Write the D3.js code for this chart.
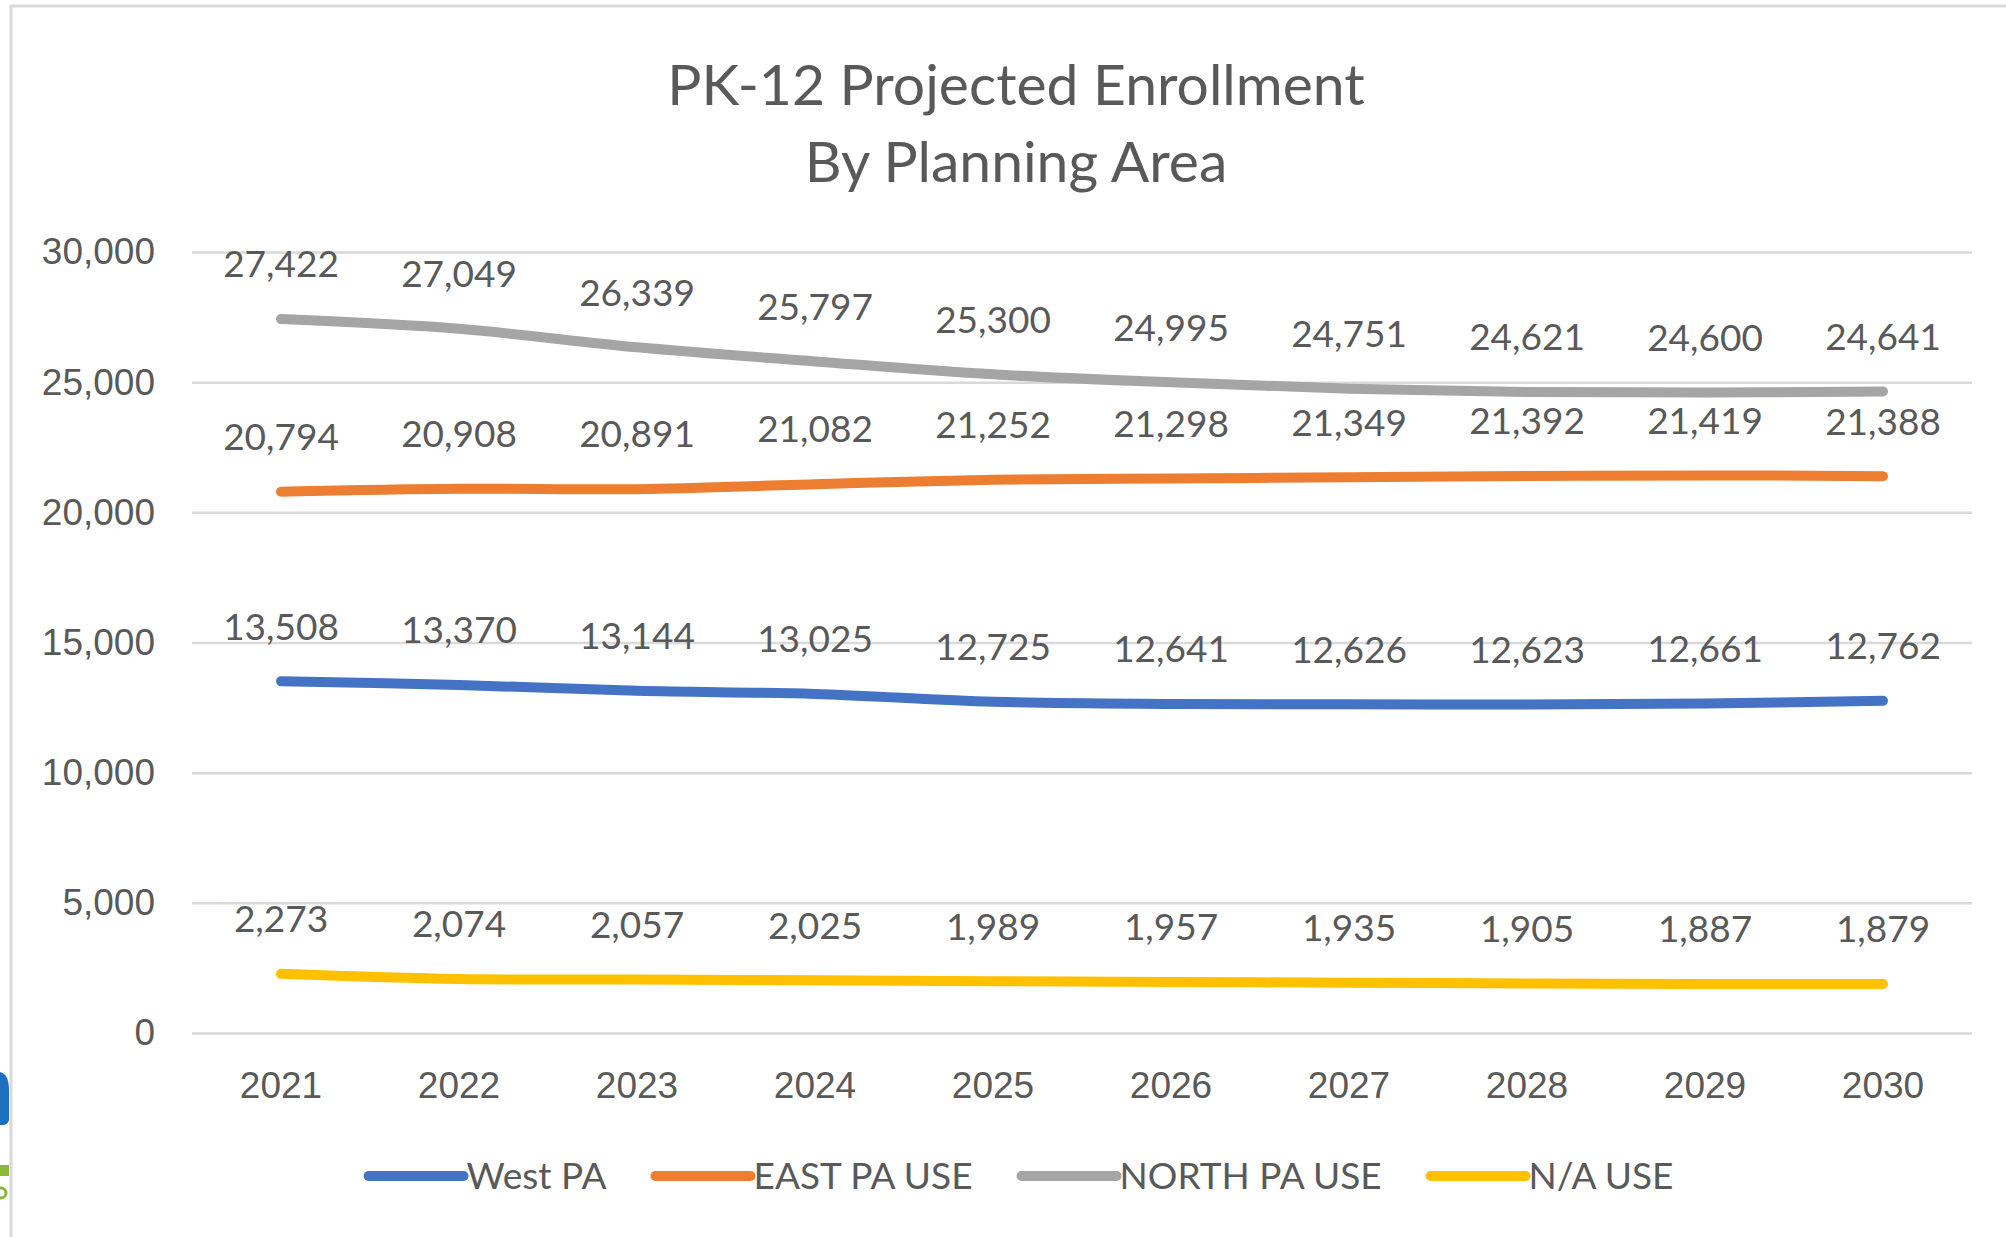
<!DOCTYPE html>
<html>
<head>
<meta charset="utf-8">
<script src="https://cdn.jsdelivr.net/npm/d3@7"></script>
<style>
  html, body { margin: 0; padding: 0; background: #fff; }
  svg { display: block; font-family: Lato, "Open Sans", sans-serif; }
</style>
</head>
<body>
<svg id="chart" width="2006" height="1237"></svg>
<script>
// Chart values
var years = ['2021', '2022', '2023', '2024', '2025', '2026', '2027', '2028', '2029', '2030'];
var westPA = [13508, 13370, 13144, 13025, 12725, 12641, 12626, 12623, 12661, 12762];
var eastPA = [20794, 20908, 20891, 21082, 21252, 21298, 21349, 21392, 21419, 21388];
var northPA = [27422, 27049, 26339, 25797, 25300, 24995, 24751, 24621, 24600, 24641];
var naUse = [2273, 2074, 2057, 2025, 1989, 1957, 1935, 1905, 1887, 1879];
var seriesNames = ['West PA', 'EAST PA USE', 'NORTH PA USE', 'N/A USE'];
var yTicks = [0, 5000, 10000, 15000, 20000, 25000, 30000];
var titleLines = ['PK-12 Projected Enrollment', 'By Planning Area'];

var colors = ['#4472C4', '#ED7D31', '#A5A5A5', '#FFC000'];
var textColor = '#595959';

var series = [westPA, eastPA, northPA, naUse].map(function(values, i) {
  return {
    name: seriesNames[i],
    color: colors[i],
    values: values.map(function(v, j) { return {year: years[j], value: v}; })
  };
});

var chart = d3.select('#chart');

// frame of the screenshot
chart.append('line')
  .attr('x1', 10).attr('x2', 2006).attr('y1', 6).attr('y2', 6)
  .attr('stroke', '#d9d9d9').attr('stroke-width', 3);
chart.append('line')
  .attr('x1', 11).attr('x2', 11).attr('y1', 5).attr('y2', 1237)
  .attr('stroke', '#d9d9d9').attr('stroke-width', 3);

// bits of a logo cut off at the left edge
chart.append('path')
  .attr('d', 'M0,1072 Q9,1074 9,1090 L9,1120 Q8,1126 0,1125 Z')
  .attr('fill', '#1f6fc0');
chart.append('rect')
  .attr('x', 0).attr('y', 1165).attr('width', 9).attr('height', 11)
  .attr('fill', '#8bb83a');
chart.append('circle')
  .attr('cx', 1).attr('cy', 1193).attr('r', 5)
  .attr('fill', 'none')
  .attr('stroke', '#8bb83a')
  .attr('stroke-width', 3);

var margin = {top: 252, right: 34, bottom: 204, left: 192};
var width = 2006 - margin.left - margin.right;
var height = 1237 - margin.top - margin.bottom;
var g = chart.append('g').attr('transform', 'translate(' + margin.left + ', ' + margin.top + ')');

var x = d3.scaleBand()
  .domain(years)
  .range([0, width])
  .padding(0);

var y = d3.scaleLinear()
  .domain([0, 30000])
  .range([height, 0]);

var cx = function(d) { return x(d.year) + x.bandwidth() / 2; };

// Title
chart.append('g')
  .selectAll('text')
  .data(titleLines)
  .enter().append('text')
  .attr('x', 1016)
  .attr('y', function(d, i) { return 105 + i * 77; })
  .attr('text-anchor', 'middle')
  .attr('fill', textColor)
  .attr('font-size', 57)
  .text(function(d) { return d; });

// Y axis + gridlines
var yAxis = g.append('g')
  .call(d3.axisLeft(y)
    .tickValues(yTicks)
    .tickSize(-width)
    .tickPadding(37)
    .tickFormat(d3.format(',')));
yAxis.select('.domain').remove();
yAxis.selectAll('.tick line')
  .attr('stroke', '#d9d9d9')
  .attr('stroke-width', 2.5);
yAxis.selectAll('.tick text')
  .attr('fill', textColor)
  .attr('font-size', 37);

// X axis
var xAxis = g.append('g')
  .attr('transform', 'translate(0, ' + height + ')')
  .call(d3.axisBottom(x).tickSize(0).tickPadding(39));
xAxis.select('.domain').remove();
xAxis.selectAll('.tick text')
  .attr('fill', textColor)
  .attr('font-size', 37);

// Data
var line = d3.line()
  .x(cx)
  .y(function(d) { return y(d.value); })
  .curve(d3.curveCardinal.tension(0));

g.selectAll('.series')
  .data(series)
  .enter().append('path')
  .attr('class', 'series')
  .attr('fill', 'none')
  .attr('stroke', function(d) { return d.color; })
  .attr('stroke-width', 10)
  .attr('stroke-linecap', 'round')
  .attr('stroke-linejoin', 'round')
  .attr('d', function(d) { return line(d.values); });

// Data labels above each point
series.forEach(function(s) {
  g.append('g')
    .selectAll('text')
    .data(s.values)
    .enter().append('text')
    .attr('x', cx)
    .attr('y', function(d) { return y(d.value) - 55; })
    .attr('dy', '0.36em')
    .attr('text-anchor', 'middle')
    .attr('fill', textColor)
    .attr('font-size', 37)
    .text(function(d) { return d3.format(',')(d.value); });
});

// Legend
var legendGap = 49;
var legend = chart.append('g');
var items = legend.selectAll('g')
  .data(series)
  .enter().append('g');

items.append('line')
  .attr('x1', 0).attr('x2', 95)
  .attr('y1', 0).attr('y2', 0)
  .attr('stroke', function(d) { return d.color; })
  .attr('stroke-width', 10)
  .attr('stroke-linecap', 'round');

items.append('text')
  .attr('x', 98)
  .attr('dy', '0.36em')
  .attr('fill', textColor)
  .attr('font-size', 37)
  .text(function(d) { return d.name; });

var offset = 0;
items.each(function() {
  var w = this.getBBox().width;
  d3.select(this).attr('transform', 'translate(' + offset + ', 0)');
  offset += w + legendGap;
});
var total = offset - legendGap;
legend.attr('transform', 'translate(' + (1021 - total / 2) + ', 1176)');
</script>
</body>
</html>
